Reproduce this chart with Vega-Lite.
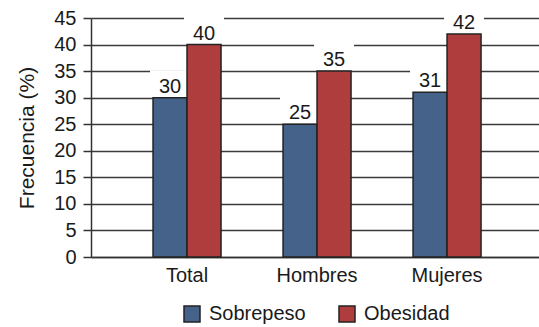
{
  "$schema": "https://vega.github.io/schema/vega-lite/v6.json",
  "width": 448,
  "height": 239,
  "autosize": {"type": "none"},
  "padding": {"left": 91, "top": 18, "right": 0, "bottom": 70},
  "background": "white",
  "config": {
    "view": {"stroke": null},
    "font": "Liberation Sans",
    "axis": {"labelFont": "Liberation Sans", "titleFont": "Liberation Sans"},
    "legend": {"labelFont": "Liberation Sans"}
  },
  "data": {
    "values": [
      {"grupo": "Total", "serie": "Sobrepeso", "valor": 30},
      {"grupo": "Total", "serie": "Obesidad", "valor": 40},
      {"grupo": "Hombres", "serie": "Sobrepeso", "valor": 25},
      {"grupo": "Hombres", "serie": "Obesidad", "valor": 35},
      {"grupo": "Mujeres", "serie": "Sobrepeso", "valor": 31},
      {"grupo": "Mujeres", "serie": "Obesidad", "valor": 42}
    ]
  },
  "encoding": {
    "x": {
      "field": "grupo",
      "type": "nominal",
      "sort": ["Total", "Hombres", "Mujeres"],
      "scale": {"paddingInner": 0.477, "paddingOuter": 0.4615, "align": 0.517},
      "axis": {
        "title": null,
        "ticks": false,
        "labelAngle": 0,
        "labelFontSize": 20,
        "labelColor": "#1a1a1a",
        "labelPadding": 8,
        "domainColor": "#333333",
        "domainWidth": 1.5
      }
    },
    "xOffset": {
      "field": "serie",
      "type": "nominal",
      "sort": ["Sobrepeso", "Obesidad"],
      "scale": {"paddingInner": 0, "paddingOuter": 0}
    },
    "y": {
      "field": "valor",
      "type": "quantitative",
      "scale": {"domain": [0, 45], "nice": false},
      "axis": {
        "title": "Frecuencia (%)",
        "titleFontSize": 21,
        "titleFontWeight": "normal",
        "titleColor": "#1a1a1a",
        "titlePadding": 16,
        "values": [0, 5, 10, 15, 20, 25, 30, 35, 40, 45],
        "labelFontSize": 20,
        "labelColor": "#1a1a1a",
        "labelPadding": 7,
        "tickSize": 8,
        "tickColor": "#333333",
        "tickWidth": 1.5,
        "domainColor": "#333333",
        "domainWidth": 1.5,
        "grid": true,
        "gridColor": "#3a3a3a",
        "gridWidth": 1.3
      }
    }
  },
  "layer": [
    {
      "mark": {"type": "tick", "fill": "white", "opacity": 1, "thickness": 26, "size": 40, "yOffset": -14.5},
      "encoding": {}
    },
    {
      "mark": {"type": "bar", "stroke": "#222222", "strokeWidth": 1.5},
      "encoding": {
        "color": {
          "field": "serie",
          "type": "nominal",
          "sort": ["Sobrepeso", "Obesidad"],
          "scale": {"domain": ["Sobrepeso", "Obesidad"], "range": ["#45628a", "#b03d3e"]},
          "legend": {
            "title": null,
            "orient": "none",
            "direction": "horizontal",
            "legendX": 91,
            "legendY": 286,
            "symbolType": "square",
            "symbolSize": 256,
            "symbolStrokeColor": "#222222",
            "symbolStrokeWidth": 1.5,
            "symbolOpacity": 1,
            "labelFontSize": 20,
            "labelColor": "#1a1a1a",
            "labelOffset": 7,
            "columnPadding": 30
          }
        }
      }
    },
    {
      "mark": {"type": "text", "baseline": "alphabetic", "dy": -5, "fontSize": 20, "color": "#1a1a1a"},
      "encoding": {"text": {"field": "valor", "type": "quantitative"}}
    }
  ]
}
